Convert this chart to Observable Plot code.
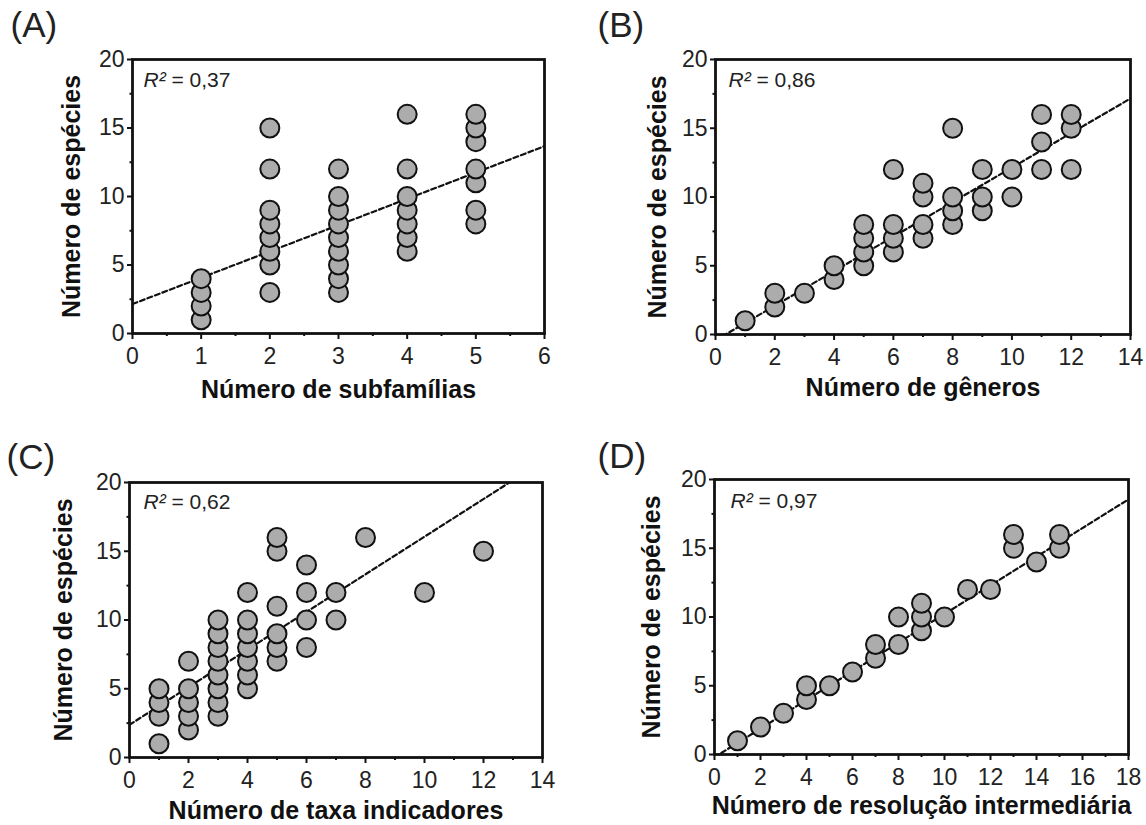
<!DOCTYPE html>
<html>
<head>
<meta charset="utf-8">
<script src="https://cdn.jsdelivr.net/npm/d3@7"></script>
<script src="https://cdn.jsdelivr.net/npm/@observablehq/plot@0.6"></script>
<style>
  html, body { margin: 0; padding: 0; background: #fff; }
  #wrap { position: relative; width: 1146px; height: 825px; overflow: hidden; }
  .panel { position: absolute; }
  svg { overflow: visible; }
</style>
</head>
<body>
<div id="wrap"></div>
<script>
// ---------- data ----------
const yTitle = "Número de espécies";
const panelLabels = ["(A)", "(B)", "(C)", "(D)"];
const xTitles = ["Número de subfamílias", "Número de gêneros", "Número de taxa indicadores", "Número de resolução intermediária"];
const r2Values = ["0,37", "0,86", "0,62", "0,97"];

// (A) subfamílias
const aX = [1,1,1,1, 2,2,2,2,2,2,2,2, 3,3,3,3,3,3,3,3,3, 4,4,4,4,4,4,4, 5,5,5,5,5,5,5];
const aY = [1,2,3,4, 3,5,6,7,8,9,12,15, 3,4,5,6,7,8,9,10,12, 6,7,8,9,10,12,16, 8,9,11,12,14,15,16];
// (B) gêneros
const bX = [1, 2,2, 3, 4,4, 5,5,5,5, 6,6,6,6, 7,7,7,7, 8,8,8,8, 9,9,9, 10,10, 11,11,11, 12,12,12];
const bY = [1, 2,3, 3, 4,5, 5,6,7,8, 6,7,8,12, 7,8,10,11, 8,9,10,15, 9,10,12, 10,12, 12,14,16, 12,15,16];
// (C) taxa indicadores
const cX = [1,1,1,1, 2,2,2,2,2, 3,3,3,3,3,3,3,3, 4,4,4,4,4,4,4, 5,5,5,5,5,5, 6,6,6,6, 7,7, 8, 10, 12];
const cY = [1,3,4,5, 2,3,4,5,7, 3,4,5,6,7,8,9,10, 5,6,7,8,9,10,12, 7,8,9,11,15,16, 8,10,12,14, 10,12, 16, 12, 15];
// (D) resolução intermediária
const dX = [1, 2, 3, 4,4, 5, 6, 7,7, 8,8, 9,9,9, 10, 11, 12, 13,13, 14, 15,15];
const dY = [1, 2, 3, 4,5, 5, 6, 7,8, 8,10, 9,10,11, 10, 12, 12, 15,16, 14, 15,16];

// fitted trend lines: [intercept, slope]
const fitA = [2.15, 1.92];
const fitB = [-0.42, 1.256];
const fitC = [2.38, 1.368];
const fitD = [-0.2, 1.042];

// x-axis tick values
const xTicksA = [0,1,2,3,4,5,6];
const xTicksB = [0,2,4,6,8,10,12,14];
const xTicksC = [0,2,4,6,8,10,12,14];
const xTicksD = [0,2,4,6,8,10,12,14,16,18];
const yTicks = [0,5,10,15,20];

// ---------- layout ----------
const font = "'Liberation Sans', Arial, Helvetica, sans-serif";
const panels = [
  {label: panelLabels[0], xTitle: xTitles[0], r2: r2Values[0], xs: aX, ys: aY, fit: fitA, xTicks: xTicksA,
   left: 0, top: 0, w: 573, h: 412, ml: 132, mr: 29, mt: 59, mb: 79,
   labelPos: [10, 36], xTitleDy: 64, yTitleDx: -53, r2Pos: [11, 27]},
  {label: panelLabels[1], xTitle: xTitles[1], r2: r2Values[1], xs: bX, ys: bY, fit: fitB, xTicks: xTicksB,
   left: 573, top: 0, w: 573, h: 412, ml: 142, mr: 16, mt: 59, mb: 78,
   labelPos: [24, 36], xTitleDy: 61, yTitleDx: -50, r2Pos: [13, 27]},
  {label: panelLabels[2], xTitle: xTitles[2], r2: r2Values[2], xs: cX, ys: cY, fit: fitC, xTicks: xTicksC,
   left: 0, top: 412, w: 573, h: 413, ml: 129, mr: 31, mt: 70, mb: 68,
   labelPos: [6, 56], xTitleDy: 61, yTitleDx: -58, r2Pos: [14, 26]},
  {label: panelLabels[3], xTitle: xTitles[3], r2: r2Values[3], xs: dX, ys: dY, fit: fitD, xTicks: xTicksD,
   left: 573, top: 412, w: 573, h: 413, ml: 141, mr: 18, mt: 67, mb: 71,
   labelPos: [24, 55], xTitleDy: 59, yTitleDx: -55, r2Pos: [16, 28]}
];

function minorBetween(ticks) {
  const out = [];
  for (let i = 0; i < ticks.length - 1; i++) out.push((ticks[i] + ticks[i + 1]) / 2);
  return out;
}

function makePanel(p) {
  const pts = p.xs.map((x, i) => ({x, y: p.ys[i]}));
  const xDomain = [p.xTicks[0], p.xTicks[p.xTicks.length - 1]];
  const trend = xDomain.map(x => ({x, y: p.fit[0] + p.fit[1] * x}));
  const chart = Plot.plot({
    width: p.w, height: p.h,
    marginLeft: p.ml, marginRight: p.mr, marginTop: p.mt, marginBottom: p.mb,
    style: {fontFamily: font, background: "transparent", overflow: "visible", color: "#111"},
    x: {domain: xDomain, label: null},
    y: {domain: [0, 20], label: null},
    marks: [
      Plot.axisX(p.xTicks, {tickSize: 6, tickPadding: 8, fontSize: 23, stroke: "#111", strokeWidth: 2, fill: "#222", label: null}),
      Plot.axisX(minorBetween(p.xTicks), {tickSize: 3, text: null, stroke: "#111", strokeWidth: 2, label: null}),
      Plot.axisY(yTicks, {tickSize: 5, tickPadding: 3, fontSize: 23, stroke: "#111", strokeWidth: 2, fill: "#222", label: null}),
      Plot.axisY(minorBetween(yTicks), {tickSize: 2.5, text: null, stroke: "#111", strokeWidth: 2, label: null}),
      Plot.line(trend, {x: "x", y: "y", stroke: "#111", strokeWidth: 2.2, strokeDasharray: "5,3", clip: true}),
      Plot.dot(pts, {x: "x", y: "y", r: 9.5, fill: "#acacac", stroke: "#111", strokeWidth: 2}),
      Plot.frame({stroke: "#111", strokeWidth: 2.8}),
      Plot.text([`R² = ${p.r2}`], {frameAnchor: "top-left", dx: p.r2Pos[0], dy: p.r2Pos[1], lineAnchor: "bottom", textAnchor: "start", fontSize: 21, fill: "#222"}),
      Plot.text([p.xTitle], {frameAnchor: "bottom", dy: p.xTitleDy, lineAnchor: "bottom", textAnchor: "middle", fontSize: 25, fontWeight: "bold", fill: "#111"}),
      Plot.text([yTitle], {frameAnchor: "left", dx: p.yTitleDx, rotate: -90, lineAnchor: "bottom", textAnchor: "middle", fontSize: 25, fontWeight: "bold", fill: "#111"}),
      Plot.text([p.label], {frameAnchor: "top-left", dx: p.labelPos[0] - p.ml, dy: p.labelPos[1] - p.mt, lineAnchor: "bottom", textAnchor: "start", fontSize: 35, fill: "#222"})
    ]
  });
  // italic R in the R² annotation
  d3.select(chart).selectAll("text").each(function () {
    const t = this.textContent;
    if (t.startsWith("R²")) {
      const rest = t.slice(2);
      this.textContent = "";
      d3.select(this).append("tspan").attr("font-style", "italic").text("R²");
      d3.select(this).append("tspan").text(rest);
    }
  });
  const div = document.createElement("div");
  div.className = "panel";
  div.style.left = p.left + "px";
  div.style.top = p.top + "px";
  div.appendChild(chart);
  return div;
}

const wrap = document.getElementById("wrap");
panels.forEach(p => wrap.appendChild(makePanel(p)));
</script>
</body>
</html>
